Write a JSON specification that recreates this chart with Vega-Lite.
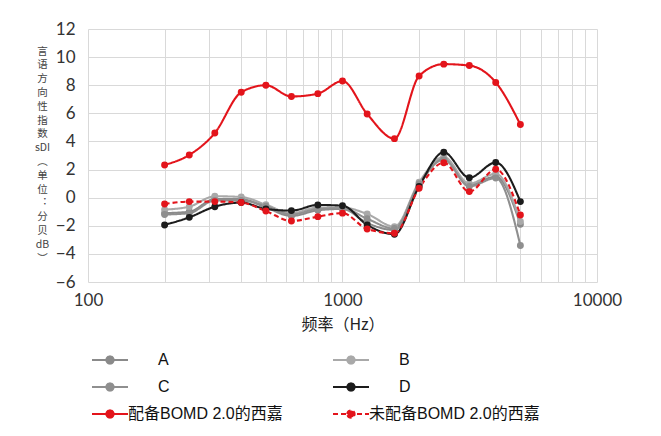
{
  "$schema": "https://vega.github.io/schema/vega-lite/v6.json",
  "width": 509,
  "height": 253,
  "autosize": {"type": "none"},
  "padding": {"left": 88, "top": 29, "right": 64, "bottom": 154},
  "background": "white",
  "data": {
    "values": [
      {"f": 200, "s": "A", "v": -1.1}, {"f": 250, "s": "A", "v": -1.0}, {"f": 315, "s": "A", "v": -0.1}, {"f": 400, "s": "A", "v": -0.1}, {"f": 500, "s": "A", "v": -0.7},
      {"f": 630, "s": "A", "v": -1.3}, {"f": 800, "s": "A", "v": -0.9}, {"f": 1000, "s": "A", "v": -0.8}, {"f": 1250, "s": "A", "v": -1.8}, {"f": 1600, "s": "A", "v": -2.3},
      {"f": 2000, "s": "A", "v": 0.9}, {"f": 2500, "s": "A", "v": 2.8}, {"f": 3150, "s": "A", "v": 0.9}, {"f": 4000, "s": "A", "v": 1.5}, {"f": 5000, "s": "A", "v": -1.9},
      {"f": 200, "s": "B", "v": -0.85}, {"f": 250, "s": "B", "v": -0.64}, {"f": 315, "s": "B", "v": 0.1}, {"f": 400, "s": "B", "v": 0.05}, {"f": 500, "s": "B", "v": -0.5},
      {"f": 630, "s": "B", "v": -1.1}, {"f": 800, "s": "B", "v": -0.7}, {"f": 1000, "s": "B", "v": -0.7}, {"f": 1250, "s": "B", "v": -1.16}, {"f": 1600, "s": "B", "v": -2.06},
      {"f": 2000, "s": "B", "v": 1.1}, {"f": 2500, "s": "B", "v": 2.9}, {"f": 3150, "s": "B", "v": 1.0}, {"f": 4000, "s": "B", "v": 1.7}, {"f": 5000, "s": "B", "v": -1.7},
      {"f": 200, "s": "C", "v": -1.2}, {"f": 250, "s": "C", "v": -1.1}, {"f": 315, "s": "C", "v": -0.2}, {"f": 400, "s": "C", "v": -0.2}, {"f": 500, "s": "C", "v": -0.6},
      {"f": 630, "s": "C", "v": -1.2}, {"f": 800, "s": "C", "v": -0.8}, {"f": 1000, "s": "C", "v": -0.75}, {"f": 1250, "s": "C", "v": -1.5}, {"f": 1600, "s": "C", "v": -2.2},
      {"f": 2000, "s": "C", "v": 1.0}, {"f": 2500, "s": "C", "v": 2.7}, {"f": 3150, "s": "C", "v": 0.8}, {"f": 4000, "s": "C", "v": 1.4}, {"f": 5000, "s": "C", "v": -3.4},
      {"f": 200, "s": "D", "v": -1.94}, {"f": 250, "s": "D", "v": -1.4}, {"f": 315, "s": "D", "v": -0.64}, {"f": 400, "s": "D", "v": -0.35}, {"f": 500, "s": "D", "v": -0.8},
      {"f": 630, "s": "D", "v": -0.92}, {"f": 800, "s": "D", "v": -0.52}, {"f": 1000, "s": "D", "v": -0.57}, {"f": 1250, "s": "D", "v": -1.94}, {"f": 1600, "s": "D", "v": -2.6},
      {"f": 2000, "s": "D", "v": 0.8}, {"f": 2500, "s": "D", "v": 3.23}, {"f": 3150, "s": "D", "v": 1.42}, {"f": 4000, "s": "D", "v": 2.5}, {"f": 5000, "s": "D", "v": -0.28},
      {"f": 200, "s": "未配备BOMD 2.0的西嘉", "v": -0.45}, {"f": 250, "s": "未配备BOMD 2.0的西嘉", "v": -0.28}, {"f": 315, "s": "未配备BOMD 2.0的西嘉", "v": -0.28},
      {"f": 400, "s": "未配备BOMD 2.0的西嘉", "v": -0.35}, {"f": 500, "s": "未配备BOMD 2.0的西嘉", "v": -0.95}, {"f": 630, "s": "未配备BOMD 2.0的西嘉", "v": -1.66},
      {"f": 800, "s": "未配备BOMD 2.0的西嘉", "v": -1.35}, {"f": 1000, "s": "未配备BOMD 2.0的西嘉", "v": -1.1}, {"f": 1250, "s": "未配备BOMD 2.0的西嘉", "v": -2.23},
      {"f": 1600, "s": "未配备BOMD 2.0的西嘉", "v": -2.53}, {"f": 2000, "s": "未配备BOMD 2.0的西嘉", "v": 0.67}, {"f": 2500, "s": "未配备BOMD 2.0的西嘉", "v": 2.49},
      {"f": 3150, "s": "未配备BOMD 2.0的西嘉", "v": 0.43}, {"f": 4000, "s": "未配备BOMD 2.0的西嘉", "v": 2.02}, {"f": 5000, "s": "未配备BOMD 2.0的西嘉", "v": -1.23},
      {"f": 200, "s": "配备BOMD 2.0的西嘉", "v": 2.33}, {"f": 250, "s": "配备BOMD 2.0的西嘉", "v": 3.04}, {"f": 315, "s": "配备BOMD 2.0的西嘉", "v": 4.6},
      {"f": 400, "s": "配备BOMD 2.0的西嘉", "v": 7.5}, {"f": 500, "s": "配备BOMD 2.0的西嘉", "v": 8.0}, {"f": 630, "s": "配备BOMD 2.0的西嘉", "v": 7.2},
      {"f": 800, "s": "配备BOMD 2.0的西嘉", "v": 7.4}, {"f": 1000, "s": "配备BOMD 2.0的西嘉", "v": 8.3}, {"f": 1250, "s": "配备BOMD 2.0的西嘉", "v": 5.95},
      {"f": 1600, "s": "配备BOMD 2.0的西嘉", "v": 4.2}, {"f": 2000, "s": "配备BOMD 2.0的西嘉", "v": 8.66}, {"f": 2500, "s": "配备BOMD 2.0的西嘉", "v": 9.5},
      {"f": 3150, "s": "配备BOMD 2.0的西嘉", "v": 9.4}, {"f": 4000, "s": "配备BOMD 2.0的西嘉", "v": 8.2}, {"f": 5000, "s": "配备BOMD 2.0的西嘉", "v": 5.2}
    ]
  },
  "mark": {
    "type": "line",
    "interpolate": "monotone",
    "point": {"size": 48, "filled": true, "opacity": 1}
  },
  "encoding": {
    "x": {
      "field": "f",
      "type": "quantitative",
      "scale": {"type": "log", "domain": [100, 10000]},
      "axis": {
        "values": [100, 200, 300, 400, 500, 600, 700, 800, 900, 1000, 2000, 3000, 4000, 5000, 6000, 7000, 8000, 9000, 10000],
        "format": "d",
        "labelExpr": "datum.value == 100 || datum.value == 1000 || datum.value == 10000 ? datum.label : ''",
        "labelOverlap": false,
        "labelFlush": false,
        "domain": false,
        "ticks": false,
        "grid": true,
        "gridColor": "#d9d9d9",
        "labelFont": "Lato",
        "labelFontSize": 17,
        "labelColor": "#333333",
        "labelPadding": 10,
        "title": "频率（Hz）",
        "titleFont": "Noto Sans CJK SC",
        "titleFontSize": 16,
        "titleFontWeight": "normal",
        "titleColor": "#222222",
        "titlePadding": 8
      }
    },
    "y": {
      "field": "v",
      "type": "quantitative",
      "scale": {"domain": [-6, 12], "nice": false},
      "axis": {
        "values": [-6, -4, -2, 0, 2, 4, 6, 8, 10, 12],
        "domain": false,
        "ticks": false,
        "grid": true,
        "gridColor": "#d9d9d9",
        "labelFont": "Lato",
        "labelFontSize": 17,
        "labelColor": "#333333",
        "labelPadding": 13,
        "title": ["言", "语", "方", "向", "性", "指", "数", "sDI", "︵", "单", "位", "︓", "分", "贝", "dB", "︶"],
        "titleAngle": 0,
        "titleX": -46,
        "titleY": 17,
        "titleAlign": "center",
        "titleBaseline": "top",
        "titleFont": "Noto Sans CJK SC",
        "titleFontSize": 10.5,
        "titleFontWeight": "normal",
        "titleLineHeight": 13.8,
        "titleColor": "#444444"
      }
    },
    "color": {
      "field": "s",
      "type": "nominal",
      "scale": {
        "domain": ["A", "B", "C", "D", "配备BOMD 2.0的西嘉", "未配备BOMD 2.0的西嘉"],
        "range": ["#8a8a8a", "#a9a9a9", "#8f8f8f", "#1c1c1c", "#e3141b", "#e3141b"]
      },
      "legend": {
        "title": null,
        "orient": "none",
        "direction": "horizontal",
        "legendX": 14,
        "legendY": 323,
        "columns": 2,
        "columnPadding": 45,
        "rowPadding": 11,
        "padding": 0,
        "symbolType": "M-3,0H3M-0.6,0A0.6,0.6,0,1,1,0.6,0A0.6,0.6,0,1,1,-0.6,0Z",
        "symbolSize": 144,
        "symbolStrokeWidth": 2,
        "labelOffset": 10,
        "labelLimit": 400,
        "labelFont": "Liberation Sans, Noto Sans CJK SC",
        "labelFontSize": 16,
        "labelColor": "#111111",
        "encode": {
          "symbols": {
            "update": {
              "fill": {"scale": "color", "field": "value"},
              "fillOpacity": {"value": 1},
              "strokeDash": {"signal": "datum.value == '未配备BOMD 2.0的西嘉' ? [4, 3] : [1, 0]"}
            }
          },
          "labels": {
            "update": {
              "dx": {"signal": "length(datum.value) == 1 ? 30 : 0"}
            }
          }
        }
      }
    },
    "strokeDash": {
      "field": "s",
      "type": "nominal",
      "scale": {
        "domain": ["A", "B", "C", "D", "配备BOMD 2.0的西嘉", "未配备BOMD 2.0的西嘉"],
        "range": [[1, 0], [1, 0], [1, 0], [1, 0], [1, 0], [5, 3]]
      },
      "legend": null
    },
    "strokeWidth": {
      "field": "s",
      "type": "nominal",
      "scale": {
        "domain": ["A", "B", "C", "D", "配备BOMD 2.0的西嘉", "未配备BOMD 2.0的西嘉"],
        "range": [2.1, 2.1, 2.1, 2.2, 2.6, 2.4]
      },
      "legend": null
    }
  },
  "config": {"view": {"stroke": null}}
}
